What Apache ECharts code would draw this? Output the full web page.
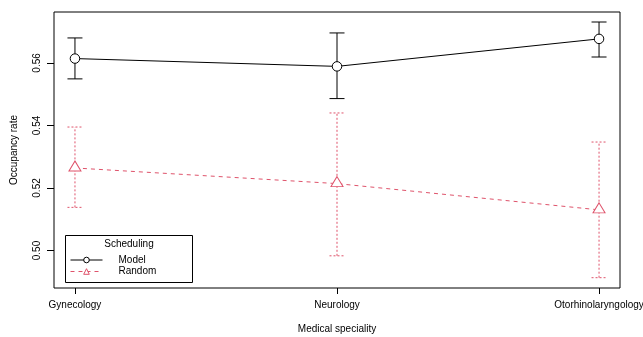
<!DOCTYPE html>
<html>
<head>
<meta charset="utf-8">
<script src="https://cdn.jsdelivr.net/npm/echarts@6/dist/echarts.min.js"></script>
<style>html,body{margin:0;padding:0;background:#fff}#c{width:643px;height:337px}</style>
</head>
<body>
<div id="c"></div>
<script>
const categories = ['Gynecology', 'Neurology', 'Otorhinolaryngology'];
const modelMean  = [0.5614, 0.5589, 0.5677];
const modelLower = [0.5549, 0.5486, 0.5619];
const modelUpper = [0.5680, 0.5696, 0.5731];
const randomMean  = [0.5264, 0.5214, 0.5130];
const randomLower = [0.5138, 0.4983, 0.4913];
const randomUpper = [0.5395, 0.5440, 0.5347];
const yTicks = [0.50, 0.52, 0.54, 0.56];
const xPos = [1, 2, 3];

const FONT = 'Liberation Sans, Arial, Helvetica, sans-serif';
const RED = '#DF536B';

function pts(means) { return xPos.map((x, i) => [x, means[i]]); }
function bars(lo, hi) { return xPos.map((x, i) => [x, lo[i], hi[i]]); }

function errRender(color, dash) {
  return function (params, api) {
    const x = api.value(0);
    const lo = api.coord([x, api.value(1)]);
    const hi = api.coord([x, api.value(2)]);
    const hw = 7.5;
    const style = { stroke: color, lineWidth: 1, lineDash: dash, fill: null };
    return {
      type: 'group',
      children: [
        { type: 'line', shape: { x1: lo[0], y1: lo[1], x2: hi[0], y2: hi[1] }, style: style },
        { type: 'line', shape: { x1: lo[0] - hw, y1: lo[1], x2: lo[0] + hw, y2: lo[1] }, style: style },
        { type: 'line', shape: { x1: hi[0] - hw, y1: hi[1], x2: hi[0] + hw, y2: hi[1] }, style: style }
      ]
    };
  };
}

const chart = echarts.init(document.getElementById('c'), null, { renderer: 'canvas' });
chart.setOption({
  animation: false,
  backgroundColor: '#fff',
  textStyle: { fontFamily: FONT },
  grid: { left: 54, right: 23, top: 12, bottom: 49, show: true, borderColor: '#000', borderWidth: 1,
    backgroundColor: 'transparent', containLabel: false, outerBoundsMode: 'none' },
  xAxis: {
    type: 'value', min: 0.92, max: 3.08,
    name: 'Medical speciality', nameLocation: 'middle', nameGap: 36,
    nameTextStyle: { color: '#000', fontSize: 10, fontFamily: FONT },
    axisLine: { show: false },
    splitLine: { show: false },
    axisTick: { show: true, length: 6, customValues: xPos, lineStyle: { color: '#000' } },
    axisLabel: { customValues: xPos, margin: 12, color: '#000', fontSize: 10, fontFamily: FONT,
      hideOverlap: false, formatter: v => categories[Math.round(v) - 1] || '' }
  },
  yAxis: {
    type: 'value', min: 0.4880, max: 0.5763,
    name: 'Occupancy rate', nameLocation: 'middle', nameGap: 35,
    nameTextStyle: { color: '#000', fontSize: 10, fontFamily: FONT },
    axisLine: { show: false },
    splitLine: { show: false },
    axisTick: { show: true, length: 7, customValues: yTicks, lineStyle: { color: '#000' } },
    axisLabel: { customValues: yTicks, rotate: 90, margin: 12, color: '#000', fontSize: 10, fontFamily: FONT,
      formatter: v => v.toFixed(2) }
  },
  legend: {
    data: ['Model', 'Random'],
    orient: 'vertical', left: 70, top: 255, padding: 0, itemWidth: 32, itemHeight: 7, itemGap: 1.5,
    lineStyle: { width: 1 },
    itemStyle: { borderWidth: 1 },
    textStyle: { color: '#000', fontSize: 10, lineHeight: 10, fontFamily: FONT, padding: [0, 0, 0, 11] }
  },
  graphic: [
    { type: 'rect', shape: { x: 65.5, y: 235.5, width: 127, height: 47 }, style: { fill: 'transparent', stroke: '#000', lineWidth: 1 }, z: 10 },
    { type: 'text', x: 129, y: 244, style: { text: 'Scheduling', fill: '#000', font: '10px ' + FONT, textAlign: 'center', textVerticalAlign: 'middle' }, z: 10 }
  ],
  series: [
    { type: 'custom', name: 'ModelErr', data: bars(modelLower, modelUpper), renderItem: errRender('#000', null), z: 1, silent: true },
    { type: 'custom', name: 'RandomErr', data: bars(randomLower, randomUpper), renderItem: errRender(RED, [2, 2]), z: 1, silent: true },
    { type: 'line', name: 'Model', data: pts(modelMean), symbol: 'circle', symbolSize: 9.5,
      itemStyle: { color: '#fff', borderColor: '#000', borderWidth: 1 },
      lineStyle: { color: '#000', width: 1 }, z: 3 },
    { type: 'line', name: 'Random', data: pts(randomMean), symbol: 'triangle', symbolSize: [12, 10], symbolOffset: [0, -2],
      itemStyle: { color: '#fff', borderColor: RED, borderWidth: 1 },
      lineStyle: { color: RED, width: 1, type: [4, 4] }, z: 3 }
  ]
});
</script>
</body>
</html>
